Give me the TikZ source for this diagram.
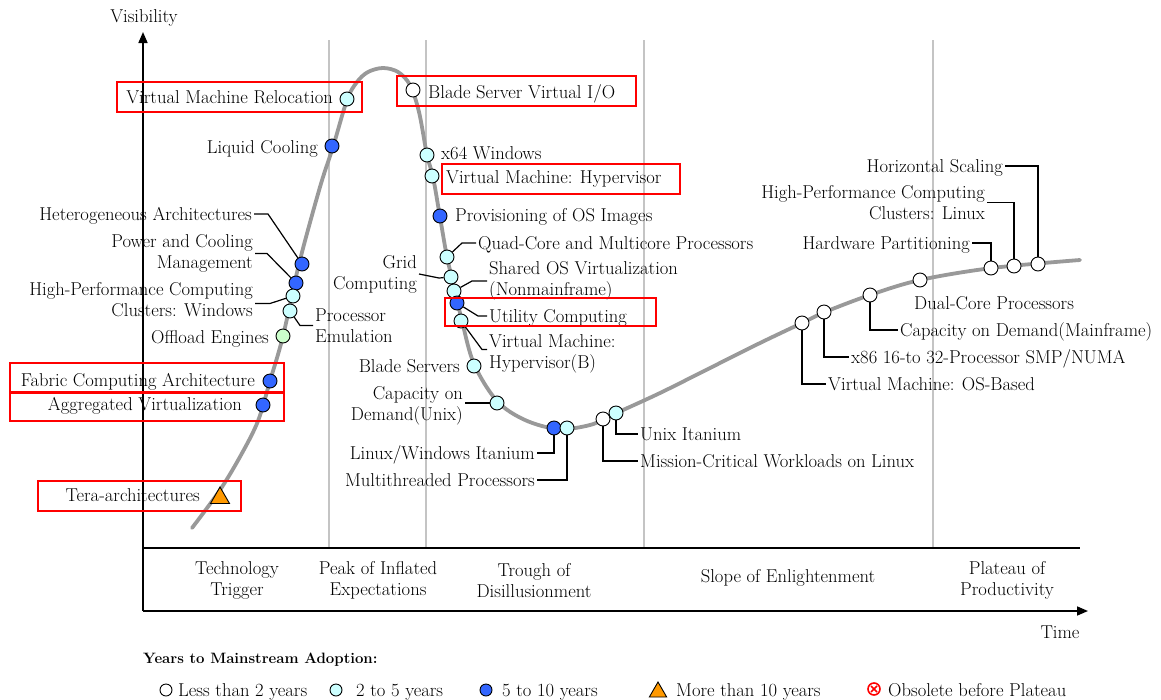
\documentclass[tikz,border=0pt]{standalone}
\usepackage{fontspec}
\setmainfont{Latin Modern Roman}
\usetikzlibrary{arrows.meta,shapes.geometric}
\definecolor{tcyan}{HTML}{CCFFFF}
\definecolor{tblue}{HTML}{3366FF}
\definecolor{tgreen}{HTML}{CCFFCC}
\definecolor{torange}{HTML}{FF9900}
\definecolor{hype}{HTML}{999999}
\definecolor{phase}{HTML}{C4C4C4}
\begin{document}
\begin{tikzpicture}[x=1pt,y=-1pt,
  every node/.style={font=\fontsize{18.6}{21}\selectfont},
  dot/.style={circle,draw=black,line width=0.9pt,minimum size=14pt,inner sep=0pt},
  lt2/.style={dot,fill=white},
  m25/.style={dot,fill=tcyan},
  m510/.style={dot,fill=tblue},
  mgreen/.style={dot,fill=tgreen},
  m10/.style={regular polygon,regular polygon sides=3,draw=black,line width=0.9pt,
              fill=torange,minimum size=22pt,inner sep=0pt},
  lbl/.style={inner sep=2pt,text height=12.6pt,text depth=0pt},
  lbltwo/.style={inner sep=2pt,align=#1},
  lead/.style={draw=black,line width=1.2pt},
  hilite/.style={draw=red,line width=2.6pt},
  phaseline/.style={draw=phase,line width=2.4pt},
  axis/.style={draw=black,line width=1.6pt},
  axisarrow/.style={axis,-{Triangle[length=11pt,width=9pt]}},
  phasename/.style={align=center,inner sep=0pt},
  legdot/.style={circle,draw=black,line width=0.9pt,minimum size=12pt,inner sep=0pt},
]
\useasboundingbox (0,0) rectangle (1161,699);

% phase separators
\foreach \x in {329,426,644,933}
  \draw[phaseline] (\x,40) -- (\x,548);

% hype curve
\draw[hype,line width=3.8pt,line cap=round] plot[smooth,tension=0.55] coordinates {
  (192,528) (220,490) (241,455) (258,421) (270,381) (283,336) (299,264)
  (320,187) (333,147) (347,100) (357,82) (368,72) (383,68) (398,72) (410,85)
  (419,112) (427,155) (433,177) (440,217) (447,257) (455,291) (462,321)
  (474,364) (497,401) (525,420) (558,429) (590,425) (612,415) (660,393)
  (710,368) (760,343) (802,323) (825,312) (870,295) (920,280) (992,268) (1080,260)};

% axes
\coordinate (origin) at (143,611);
\coordinate (ytop) at (143,32);
\coordinate (xend) at (1088,611);
\draw[axisarrow] (origin) -- (ytop);
\draw[axisarrow] (origin) -- (xend);
\draw[axis] (143,548) -- (1080,548);
\node (vis) at (144,18) {Visibility};
\node (time) at (1060,632) {Time};

% phase names
\node[phasename] (ph1) at (237,580.5) {Technology\\Trigger};
\node[phasename] (ph2) at (378,580.5) {Peak of Inflated\\Expectations};
\node[phasename] (ph3) at (534,580.5) {Trough of\\Disillusionment};
\node[phasename] (ph4) at (788,578) {Slope of Enlightenment};
\node[phasename] (ph5) at (1007,580.5) {Plateau of\\Productivity};

% markers
\node[m25]  (mvmr)   at (347,99)  {};
\node[m510] (mlc)    at (332,146) {};
\node[m510] (mhet)   at (302,264) {};
\node[m510] (mpcm)   at (296,283) {};
\node[m25]  (mhpcw)  at (293,296) {};
\node[m25]  (mpe)    at (290,311) {};
\node[mgreen] (moff) at (283,336) {};
\node[m510] (mfab)   at (270,381) {};
\node[m510] (magg)   at (263,405) {};
\node[m10]  (mtera)  at (220,498) {};
\node[lt2]  (mbsv)   at (413,90)  {};
\node[m25]  (mx64)   at (427,155) {};
\node[m25]  (mvmh)   at (432,176) {};
\node[m510] (mprov)  at (440,216) {};
\node[m25]  (mquad)  at (447,257) {};
\node[m25]  (mgrid)  at (451,277) {};
\node[m25]  (mshared) at (454,291) {};
\node[m510] (mutil)  at (457,303) {};
\node[m25]  (mvmhb)  at (461,321) {};
\node[m25]  (mbs)    at (474,366) {};
\node[m25]  (mcodu)  at (497,403) {};
\node[m510] (mlwi)   at (554,428) {};
\node[m25]  (mmt)    at (567,428) {};
\node[lt2]  (mmc)    at (603,419) {};
\node[m25]  (mui)    at (616,413) {};
\node[lt2]  (mvmos)  at (802,323) {};
\node[lt2]  (mx86)   at (824,312) {};
\node[lt2]  (mcodm)  at (870,295) {};
\node[lt2]  (mdual)  at (920,280) {};
\node[lt2]  (mhw)    at (991,268) {};
\node[lt2]  (mhpcl)  at (1014,266) {};
\node[lt2]  (mhs)    at (1038,264) {};

% labels, left of their markers
\node[lbl,anchor=east] (vmr) at (335,97) {Virtual Machine Relocation};
\node[lbl,anchor=east] (lc)  at (320,147) {Liquid Cooling};
\node[lbl,anchor=east] (het) at (254,214) {Heterogeneous Architectures};
\node[lbltwo=right,anchor=east] (pcm) at (255,253.5) {Power and Cooling\\Management};
\node[lbltwo=right,anchor=east] (hpcw) at (255,299.5) {High-Performance Computing\\Clusters: Windows};
\node[lbl,anchor=east] (off) at (271,337) {Offload Engines};
\node[lbl,anchor=east] (fab) at (257,380) {Fabric Computing Architecture};
\node[lbl,anchor=east] (agg) at (244,404) {Aggregated Virtualization};
\node[lbl,anchor=east] (tera) at (202,495) {Tera-architectures};
\node[lbltwo=right,anchor=east] (grid) at (419,274) {Grid\\Computing};
\node[lbl,anchor=east] (bs) at (462,366) {Blade Servers};
\node[lbltwo=right,anchor=east] (codu) at (465,405.5) {Capacity on\\Demand(Unix)};
\node[lbl,anchor=east] (lwi) at (537,453) {Linux/Windows Itanium};
\node[lbl,anchor=east] (mt) at (537,480) {Multithreaded Processors};
\node[lbl,anchor=east] (hw) at (972,243) {Hardware Partitioning};
\node[lbltwo=right,anchor=east] (hpcl) at (987,202.5) {High-Performance Computing\\Clusters: Linux};
\node[lbl,anchor=east] (hs) at (1005,166) {Horizontal Scaling};

% labels, right of their markers
\node[lbltwo=left,anchor=west] (pe) at (313,325.5) {Processor\\Emulation};
\node[lbl,anchor=west] (bsv) at (426,92) {Blade Server Virtual I/O};
\node[lbl,anchor=west] (x64) at (439,153) {x64 Windows};
\node[lbl,anchor=west] (vmh) at (444,177) {Virtual Machine: Hypervisor};
\node[lbl,anchor=west] (prov) at (453,215) {Provisioning of OS Images};
\node[lbl,anchor=west] (quad) at (476,243) {Quad-Core and Multicore Processors};
\node[lbltwo=left,anchor=west] (shared) at (487,281) {Shared OS Virtualization\\(Nonmainframe)};
\node[lbl,anchor=west] (util) at (487,316) {Utility Computing};
\node[lbltwo=left,anchor=west] (vmhb) at (487,353.5) {Virtual Machine:\\Hypervisor(B)};
\node[lbl,anchor=west] (ui) at (638,434) {Unix Itanium};
\node[lbl,anchor=west] (mc) at (638,461) {Mission-Critical Workloads on Linux};
\node[lbl,anchor=west] (vmos) at (826,384) {Virtual Machine: OS-Based};
\node[lbl,anchor=west] (x86) at (849,357) {x86 16-to 32-Processor SMP/NUMA};
\node[lbl,anchor=west] (codm) at (898,330) {Capacity on Demand(Mainframe)};
\node[lbl,anchor=west] (dual) at (912,303) {Dual-Core Processors};

% leader lines
\draw[lead] (het.east) -- ++(14,0) -- (mhet);
\draw[lead] (pcm.east) -- ++(12,0) -- (mpcm);
\draw[lead] ([yshift=-4pt]hpcw.east) -- ++(15,0) -- (mhpcw);
\draw[lead] (mpe) -- ([xshift=-13pt]pe.west) -- (pe.west);
\draw[lead] (mquad) -- ([xshift=-14pt]quad.west) -- (quad.west);
\draw[lead] (grid.east) -- ++(20,4) -- (mgrid);
\draw[lead] (mshared) -- ([xshift=-15pt]shared.west) -- (shared.west);
\draw[lead] (mutil) -- ([xshift=-9pt]util.west) -- (util.west);
\draw[lead] (mvmhb) -- ([xshift=-5pt,yshift=4pt]vmhb.west) -- ([yshift=4pt]vmhb.west);
\draw[lead] (codu.east |- mcodu) -- (mcodu);
\draw[lead] (mlwi) |- (lwi.east);
\draw[lead] (mmt) |- (mt.east);
\draw[lead] (mmc) |- (mc.west);
\draw[lead] (mui) |- (ui.west);
\draw[lead] (mvmos) |- (vmos.west);
\draw[lead] (mx86) |- (x86.west);
\draw[lead] (mcodm) |- (codm.west);
\draw[lead] (hw.east) -| (mhw);
\draw[lead] (hpcl.east) -| (mhpcl);
\draw[lead] (hs.east) -| (mhs);

% highlighted entries
\draw[hilite] (117,82) rectangle (362,112);
\draw[hilite] (397,76) rectangle (636,106);
\draw[hilite] (442,164) rectangle (680,194);
\draw[hilite] (445,298) rectangle (656,326);
\draw[hilite] (10,363) rectangle (284,392);
\draw[hilite] (10,393) rectangle (284,421);
\draw[hilite] (38,481) rectangle (241,511);

% legend
\node[anchor=west,inner sep=0pt,font=\fontsize{15}{18}\selectfont\bfseries] (legtitle) at (143,660) {Years to Mainstream Adoption:};
\node[legdot,fill=white] (lg1) at (166,690) {};
\node[lbl,anchor=west] (lgt1) at (176,690) {Less than 2 years};
\node[legdot,fill=tcyan] (lg2) at (336,690) {};
\node[lbl,anchor=west] (lgt2) at (354,690) {2 to 5 years};
\node[legdot,fill=tblue] (lg3) at (486,690) {};
\node[lbl,anchor=west] (lgt3) at (500,690) {5 to 10 years};
\node[m10,minimum size=20pt] (lg4) at (658,692) {};
\node[lbl,anchor=west] (lgt4) at (674,690) {More than 10 years};
\node[circle,draw=red,line width=1.6pt,minimum size=12pt,inner sep=0pt,
  path picture={\draw[red,line width=1.6pt]
    ([shift={(-3pt,-3pt)}]path picture bounding box.center) -- ([shift={(3pt,3pt)}]path picture bounding box.center)
    ([shift={(-3pt,3pt)}]path picture bounding box.center) -- ([shift={(3pt,-3pt)}]path picture bounding box.center);}]
  (lg5) at (874,689) {};
\node[lbl,anchor=west] (lgt5) at (886,690) {Obsolete before Plateau};
\end{tikzpicture}
\end{document}
